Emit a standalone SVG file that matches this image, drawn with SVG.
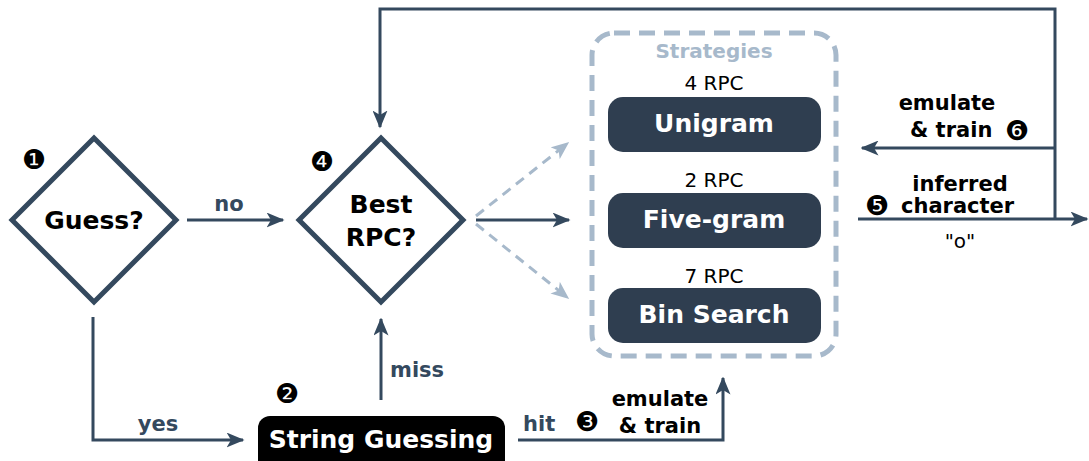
<svg xmlns="http://www.w3.org/2000/svg" width="1089" height="461" viewBox="0 0 1089 461">
<style>
.ln{fill:none;stroke:#34495e;stroke-width:3}
.dl{fill:none;stroke:#a7b9cb;stroke-width:3;stroke-dasharray:10 7}
.dia{fill:#fff;stroke:#34495e;stroke-width:5;stroke-linejoin:miter}
.t{font-family:"DejaVu Sans",sans-serif}
.b{font-weight:bold}
.big{font-size:25px;font-weight:bold}
.lab{font-size:21px;font-weight:bold;fill:#34495e}
.blk{font-size:21px;font-weight:bold;fill:#000}
.rpc{font-size:20px;fill:#000}
.num{font-size:27px;fill:#000}
.box{fill:#2f3e50}
.wt{fill:#fff;font-size:25px;font-weight:bold}
</style>
<defs>
<marker id="ahl" viewBox="0 0 12 10" refX="11" refY="5" markerWidth="18" markerHeight="15" markerUnits="userSpaceOnUse" orient="auto">
<path d="M0,0 L12,5 L0,10 L3,5 z" fill="#a7b9cb"/>
</marker>
<marker id="ahb" viewBox="0 0 12 10" refX="11" refY="5" markerWidth="18" markerHeight="15" markerUnits="userSpaceOnUse" orient="auto">
<path d="M0,0 L12,5 L0,10 L3,5 z" fill="#34495e"/>
</marker>
</defs>

<g id="connectors">
<path class="ln" d="M187,220 H283" marker-end="url(#ahb)"/>
<path class="ln" d="M93,317 V440 H243" marker-end="url(#ahb)"/>
<path class="ln" d="M381,400 V319" marker-end="url(#ahb)"/>
<path class="ln" d="M518,440 H723 V378" marker-end="url(#ahb)"/>
<path class="dl" d="M476,216 L568,143" marker-end="url(#ahl)"/>
<path class="dl" d="M476,224 L568,298" marker-end="url(#ahl)"/>
<path class="ln" d="M476,220 H569" marker-end="url(#ahb)"/>
<path class="ln" d="M858,219 H1087" marker-end="url(#ahb)"/>
<path class="ln" d="M1055,219 V9 H380 V127" marker-end="url(#ahb)"/>
<path class="ln" d="M1055,148 H862" marker-end="url(#ahb)"/>
<text class="t lab" x="229" y="211" text-anchor="middle">no</text>
<text class="t lab" x="158" y="431" text-anchor="middle">yes</text>
<text class="t lab" x="390" y="377">miss</text>
<text class="t lab" x="523" y="431">hit</text>
<text class="t num" x="587" y="431" text-anchor="middle">❸</text>
<text class="t blk" x="660" y="406" text-anchor="middle">emulate</text>
<text class="t blk" x="660" y="433" text-anchor="middle">&amp; train</text>
<text class="t blk" x="947" y="110" text-anchor="middle">emulate</text>
<text class="t blk" x="910" y="137">&amp; train</text>
<text class="t num" x="1017" y="140" text-anchor="middle">❻</text>
<text class="t blk" x="960" y="191" text-anchor="middle">inferred</text>
<text class="t num" x="877" y="215" text-anchor="middle">❺</text>
<text class="t blk" x="901" y="213">character</text>
<text class="t rpc" x="960" y="248" text-anchor="middle">"o"</text>
</g>

<g id="guess">
<polygon class="dia" points="94,138 176,220 94,302 12,220"/>
<text class="t big" x="94" y="229" text-anchor="middle">Guess?</text>
<text class="t num" x="34" y="169" text-anchor="middle">❶</text>
</g>

<g id="best-rpc">
<polygon class="dia" points="381,138 463,220 381,302 299,220"/>
<text class="t big" x="381" y="213" text-anchor="middle">Best</text>
<text class="t big" x="381" y="246" text-anchor="middle">RPC?</text>
<text class="t num" x="322" y="171" text-anchor="middle">❹</text>
</g>

<g id="strategies">
<rect x="592" y="33" width="244" height="323" rx="22" fill="none" stroke="#a7b9cb" stroke-width="5" stroke-dasharray="16 9"/>
<text class="t b" x="714" y="58" text-anchor="middle" font-size="20" fill="#a7b9cb">Strategies</text>
</g>

<g id="unigram">
<text class="t rpc" x="714" y="90" text-anchor="middle">4 RPC</text>
<rect class="box" x="608" y="97" width="213" height="55" rx="15"/>
<text class="t wt" x="714" y="132" text-anchor="middle">Unigram</text>
</g>

<g id="five-gram">
<text class="t rpc" x="714" y="187" text-anchor="middle">2 RPC</text>
<rect class="box" x="608" y="193" width="213" height="55" rx="15"/>
<text class="t wt" x="714" y="228" text-anchor="middle">Five-gram</text>
</g>

<g id="bin-search">
<text class="t rpc" x="714" y="283" text-anchor="middle">7 RPC</text>
<rect class="box" x="608" y="288" width="213" height="55" rx="15"/>
<text class="t wt" x="714" y="323" text-anchor="middle">Bin Search</text>
</g>

<g id="string-guessing">
<rect x="258" y="416" width="247" height="56" rx="12" fill="#000"/>
<text class="t wt" x="381" y="448" text-anchor="middle">String Guessing</text>
<text class="t num" x="287" y="403" text-anchor="middle">❷</text>
</g>
</svg>
